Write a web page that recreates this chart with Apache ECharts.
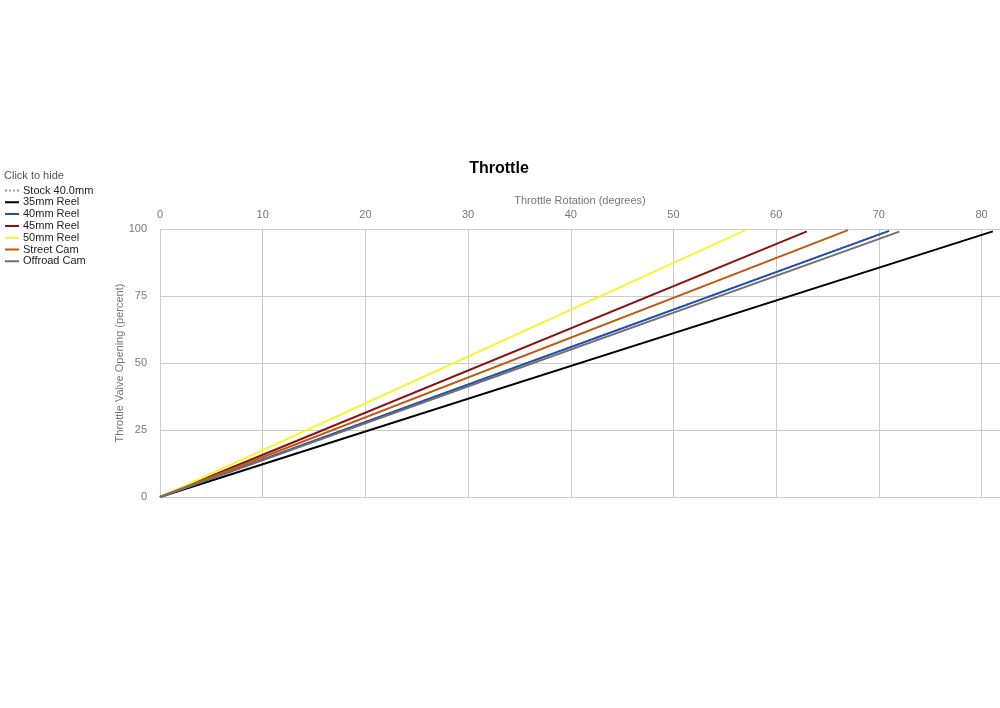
<!DOCTYPE html>
<html>
<head>
<meta charset="utf-8">
<script src="https://cdn.jsdelivr.net/npm/echarts@6/dist/echarts.min.js"></script>
<style>html,body{margin:0;padding:0;background:#fff}#c{width:1000px;height:708px}</style>
</head>
<body>
<div id="c"></div>
<script>
const seriesNames = ["Stock 40.0mm", "35mm Reel", "40mm Reel", "45mm Reel", "50mm Reel", "Street Cam", "Offroad Cam"];
const seriesColors = ["#999999", "#000000", "#1f4fb4", "#8b1010", "#f5f532", "#c05a10", "#707070"];
const stock40 = [[0, 0], [71, 99.3]];
const reel35 = [[0, 0], [81.1, 99.1]];
const reel40 = [[0, 0], [71, 99.3]];
const reel45 = [[0, 0], [63, 99.1]];
const reel50 = [[0, 0], [57, 99.6]];
const streetCam = [[0, 0], [67, 99.6]];
const offroadCam = [[0, 0], [72, 99.0]];
const xTicks = [0, 10, 20, 30, 40, 50, 60, 70, 80];
const yTicks = [0, 25, 50, 75, 100];

const dataList = [stock40, reel35, reel40, reel45, reel50, streetCam, offroadCam];
const chart = echarts.init(document.getElementById('c'));
const series = seriesNames.map((n, i) => ({
  name: n, type: 'line', data: dataList[i], showSymbol: false, symbol: 'none',
  lineStyle: { color: seriesColors[i], width: 2, type: i === 0 ? 'dotted' : 'solid' },
  itemStyle: { color: seriesColors[i] }, z: i === 0 ? 1 : 2
}));
chart.setOption({
  animation: false,
  title: [
    { text: 'Throttle', left: 494, top: 156, textAlign: 'center',
      textStyle: { fontFamily: 'Arial, Liberation Sans', fontSize: 16, fontWeight: 'bold', color: '#000' } },
    { text: 'Click to hide', left: -1, top: 165,
      textStyle: { fontFamily: 'Arial, Liberation Sans', fontSize: 11, fontWeight: 'normal', color: '#555' } }
  ],
  legend: {
    orient: 'vertical', left: 0, top: 180, itemGap: 0.8, itemWidth: 14, itemHeight: 10,
    selectedMode: true,
    textStyle: { fontFamily: 'Arial, Liberation Sans', fontSize: 11, color: '#222', padding: [0, 0, 0, -1] },
    data: seriesNames.map((n, i) => ({
      name: n,
      icon: i === 0 ? 'path://M0,4h2v2h-2z M4,4h2v2h-2z M8,4h2v2h-2z M12,4h2v2h-2z M0,0h0.01v0.01h-0.01z M0,10h0.01v0.01h-0.01z' : 'path://M0,4h14v2h-14z M0,0h0.01v0.01h-0.01z M0,10h0.01v0.01h-0.01z',
      itemStyle: { color: seriesColors[i] }
    }))
  },
  grid: { left: 160, right: 0, top: 229, bottom: 211, containLabel: false },
  xAxis: {
    type: 'value', position: 'top', min: xTicks[0], max: 81.8, interval: 10,
    name: 'Throttle Rotation (degrees)', nameLocation: 'middle', nameGap: 23,
    nameTextStyle: { fontFamily: 'Arial, Liberation Sans', fontSize: 11, color: '#777' },
    axisLine: { show: true, lineStyle: { color: '#ccc' } }, axisTick: { show: false },
    axisLabel: { margin: 9, color: '#777', fontFamily: 'Arial, Liberation Sans', fontSize: 11, showMaxLabel: false,
      formatter: v => xTicks.includes(v) ? String(v) : '' },
    splitLine: { show: true, lineStyle: { color: '#ccc' } }
  },
  yAxis: {
    type: 'value', min: yTicks[0], max: yTicks[yTicks.length - 1], interval: 25,
    name: 'Throttle Valve Opening (percent)', nameLocation: 'middle', nameGap: 35,
    nameMoveOverlap: false,
    nameTextStyle: { fontFamily: 'Arial, Liberation Sans', fontSize: 11, color: '#777' },
    axisLine: { show: false }, axisTick: { show: false },
    axisLabel: { margin: 13, color: '#777', fontFamily: 'Arial, Liberation Sans', fontSize: 11 },
    splitLine: { show: true, lineStyle: { color: '#ccc' } }
  },
  series: series
});
</script>
</body>
</html>
